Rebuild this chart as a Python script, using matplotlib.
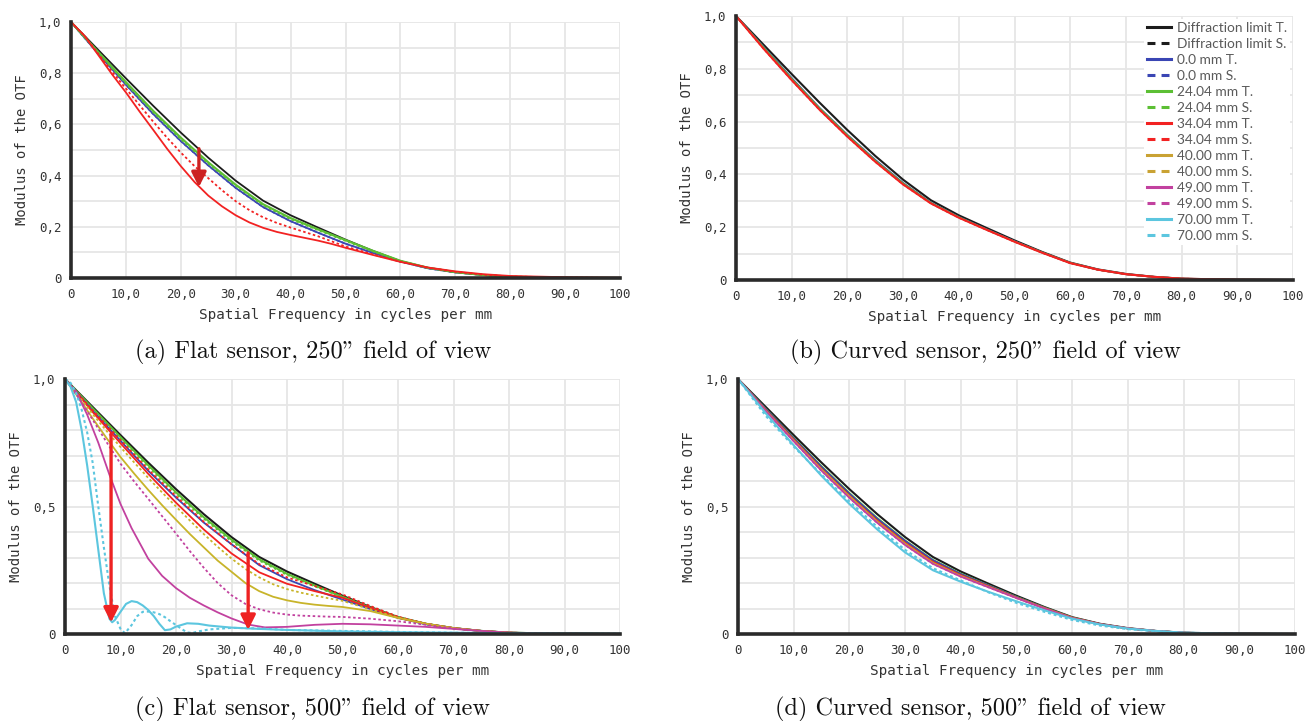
import numpy as np
import matplotlib
matplotlib.use('Agg')
import matplotlib.pyplot as plt
from matplotlib.lines import Line2D

W, H = 1307, 721

# spatial frequency grids (cycles/mm)
FREQ = [0, 5, 10, 15, 20, 25, 30, 35, 40, 45, 50, 55, 60, 65, 70, 75, 80, 90, 100]
FREQ_FINE = [0, 2.5, 5, 7.5, 10, 12.5, 15, 17.5, 20, 22.5, 25, 27.5, 30, 32.5, 35, 37.5,
             40, 42.5, 45, 47.5, 50, 55, 60, 65, 70, 75, 80, 90, 100]

# diffraction limit (same in every panel)
DIFF = [1.0, 0.89, 0.78, 0.672, 0.568, 0.47, 0.38, 0.302, 0.245, 0.197, 0.150, 0.106, 0.066, 0.040, 0.023, 0.012, 0.005, 0.001, 0.0]

# (a) flat sensor, 250" field
A_BLUE = [1.0, 0.875, 0.755, 0.64, 0.535, 0.44, 0.352, 0.277, 0.222, 0.177, 0.134, 0.098, 0.064, 0.038, 0.022, 0.012, 0.005, 0.001, 0.0]
A_GREEN_T = [1.0, 0.882, 0.765, 0.652, 0.548, 0.452, 0.364, 0.288, 0.234, 0.19, 0.148, 0.106, 0.067, 0.040, 0.023, 0.012, 0.005, 0.001, 0.0]
A_GREEN_S = [1.0, 0.879, 0.76, 0.647, 0.542, 0.447, 0.36, 0.284, 0.23, 0.187, 0.145, 0.104, 0.066, 0.040, 0.023, 0.012, 0.005, 0.001, 0.0]
# fine grid
A_RED_T = [1.0, 0.945, 0.87, 0.795, 0.725, 0.65, 0.578, 0.505, 0.437, 0.375, 0.322, 0.28, 0.245, 0.217, 0.196, 0.18,
           0.168, 0.157, 0.146, 0.133, 0.118, 0.09, 0.063, 0.041, 0.026, 0.015, 0.008, 0.003, 0.001]
A_RED_S = [1.0, 0.945, 0.875, 0.805, 0.74, 0.675, 0.61, 0.548, 0.49, 0.437, 0.39, 0.343, 0.30, 0.265, 0.237, 0.215,
           0.197, 0.18, 0.163, 0.143, 0.123, 0.092, 0.064, 0.040, 0.024, 0.013, 0.006, 0.002, 0.0]

# (b) curved sensor, 250" field
B_BLUE = [1.0, 0.882, 0.765, 0.652, 0.55, 0.455, 0.368, 0.293, 0.239, 0.192, 0.147, 0.104, 0.065, 0.039, 0.022, 0.012, 0.005, 0.001, 0.0]
B_GREEN = [1.0, 0.88, 0.762, 0.65, 0.548, 0.452, 0.366, 0.292, 0.238, 0.191, 0.146, 0.104, 0.065, 0.039, 0.022, 0.012, 0.005, 0.001, 0.0]
B_RED = [1.0, 0.875, 0.757, 0.645, 0.543, 0.448, 0.362, 0.29, 0.236, 0.19, 0.145, 0.103, 0.064, 0.039, 0.022, 0.012, 0.005, 0.001, 0.0]

# (c) flat sensor, 500" field
C_BLUE = [1.0, 0.875, 0.758, 0.64, 0.535, 0.437, 0.352, 0.27, 0.215, 0.172, 0.135, 0.098, 0.063, 0.038, 0.022, 0.012, 0.005, 0.001, 0.0]
C_GREEN_T = [1.0, 0.885, 0.772, 0.662, 0.556, 0.458, 0.37, 0.293, 0.236, 0.19, 0.146, 0.104, 0.066, 0.040, 0.023, 0.012, 0.005, 0.001, 0.0]
C_GREEN_S = [1.0, 0.882, 0.768, 0.656, 0.55, 0.452, 0.364, 0.288, 0.232, 0.187, 0.144, 0.103, 0.065, 0.039, 0.023, 0.012, 0.005, 0.001, 0.0]
C_RED_T = [1.0, 0.87, 0.748, 0.628, 0.515, 0.41, 0.316, 0.242, 0.197, 0.168, 0.142, 0.103, 0.064, 0.040, 0.023, 0.012, 0.005, 0.001, 0.0]
C_RED_S = [1.0, 0.877, 0.76, 0.645, 0.54, 0.44, 0.352, 0.274, 0.222, 0.188, 0.155, 0.11, 0.068, 0.040, 0.023, 0.012, 0.005, 0.001, 0.0]
# fine grid
C_YELLOW_T = [1.0, 0.925, 0.845, 0.768, 0.694, 0.628, 0.565, 0.505, 0.448, 0.392, 0.34, 0.288, 0.244, 0.2, 0.168, 0.146,
              0.132, 0.122, 0.115, 0.11, 0.106, 0.09, 0.063, 0.040, 0.023, 0.012, 0.005, 0.001, 0.0]
C_YELLOW_S = [1.0, 0.932, 0.862, 0.796, 0.733, 0.672, 0.612, 0.555, 0.5, 0.445, 0.392, 0.342, 0.296, 0.255, 0.222, 0.195,
              0.176, 0.162, 0.151, 0.14, 0.13, 0.097, 0.064, 0.040, 0.023, 0.012, 0.005, 0.001, 0.0]
C_MAGENTA_S = [1.0, 0.925, 0.84, 0.752, 0.668, 0.597, 0.53, 0.462, 0.394, 0.325, 0.26, 0.2, 0.152, 0.118, 0.097, 0.084,
               0.076, 0.072, 0.07, 0.068, 0.067, 0.06, 0.05, 0.036, 0.022, 0.012, 0.005, 0.001, 0.0]

C_MAGENTA_T_FREQ = [0, 2, 4, 6, 8, 10, 12, 15, 17.5, 20, 22.5, 25, 27.5, 30, 33, 36, 40, 45, 50, 55, 60, 65, 70, 75, 80, 90, 100]
C_MAGENTA_T = [1.0, 0.95, 0.86, 0.75, 0.625, 0.51, 0.415, 0.295, 0.228, 0.18, 0.142, 0.112, 0.085, 0.061, 0.037, 0.026, 0.028, 0.036, 0.04, 0.038, 0.033, 0.028, 0.02, 0.012, 0.005, 0.001, 0.0]

C_CYAN_T_FREQ = [0, 1, 2, 3, 4, 5, 6, 7, 8, 8.5, 9, 10, 11, 12, 13, 14, 15, 16, 17, 18, 19, 20, 22, 24, 26, 30, 35, 40, 50, 60, 70, 80, 90, 100]
C_CYAN_T = [1.0, 0.97, 0.91, 0.8, 0.66, 0.5, 0.33, 0.16, 0.06, 0.046, 0.055, 0.087, 0.118, 0.129, 0.125, 0.112, 0.094, 0.07, 0.04, 0.015, 0.018, 0.029, 0.042, 0.04, 0.033, 0.025, 0.02, 0.016, 0.01, 0.007, 0.005, 0.003, 0.002, 0.001]

C_CYAN_S_FREQ = [0, 1, 2, 3, 4, 5, 6, 7, 8, 9, 10, 10.8, 12, 13, 14, 15, 16, 17, 18, 19, 20, 21, 22, 23, 24, 26, 30, 35, 40, 50, 60, 70, 80, 90, 100]
C_CYAN_S = [1.0, 0.985, 0.945, 0.88, 0.79, 0.67, 0.5, 0.34, 0.19, 0.07, 0.02, 0.003, 0.035, 0.07, 0.087, 0.088, 0.085, 0.078, 0.066, 0.05, 0.035, 0.02, 0.006, 0.004, 0.01, 0.018, 0.024, 0.022, 0.016, 0.012, 0.008, 0.005, 0.003, 0.002, 0.001]

# (d) curved sensor, 500" field
D_BLUE = [1.0, 0.882, 0.768, 0.655, 0.55, 0.452, 0.365, 0.289, 0.235, 0.19, 0.145, 0.103, 0.064, 0.039, 0.022, 0.012, 0.005, 0.001, 0.0]
D_GREEN = [1.0, 0.883, 0.77, 0.658, 0.553, 0.455, 0.367, 0.291, 0.237, 0.191, 0.146, 0.104, 0.065, 0.039, 0.022, 0.012, 0.005, 0.001, 0.0]
D_RED = [1.0, 0.878, 0.763, 0.648, 0.543, 0.445, 0.358, 0.283, 0.231, 0.187, 0.143, 0.102, 0.064, 0.039, 0.022, 0.012, 0.005, 0.001, 0.0]
D_YELLOW = [1.0, 0.876, 0.76, 0.645, 0.54, 0.441, 0.354, 0.279, 0.228, 0.185, 0.142, 0.101, 0.063, 0.038, 0.022, 0.012, 0.005, 0.001, 0.0]
D_MAGENTA = [1.0, 0.874, 0.756, 0.64, 0.534, 0.436, 0.349, 0.275, 0.225, 0.183, 0.141, 0.1, 0.062, 0.038, 0.022, 0.012, 0.005, 0.001, 0.0]
D_CYAN_T = [1.0, 0.865, 0.74, 0.62, 0.51, 0.41, 0.32, 0.25, 0.205, 0.165, 0.128, 0.093, 0.06, 0.037, 0.021, 0.012, 0.005, 0.001, 0.0]
D_CYAN_S = [1.0, 0.855, 0.735, 0.625, 0.52, 0.42, 0.33, 0.258, 0.21, 0.163, 0.122, 0.087, 0.055, 0.033, 0.019, 0.011, 0.005, 0.001, 0.0]

# red arrows: (frequency, start, tip)
A_ARROWS = [(23.3, 0.505, 0.355)]
C_ARROWS = [(8.3, 0.785, 0.045), (33.0, 0.318, 0.016)]

XTICKS = [0, 10, 20, 30, 40, 50, 60, 70, 80, 90, 100]
XTICK_LABELS = ['0', '10,0', '20,0', '30,0', '40,0', '50,0', '60,0', '70,0', '80,0', '90,0', '100']

LEGEND_LABELS = ['Diffraction limit T.', 'Diffraction limit S.', '0.0 mm T.', '0.0 mm S.',
                 '24.04 mm T.', '24.04 mm S.', '34.04 mm T.', '34.04 mm S.',
                 '40.00 mm T.', '40.00 mm S.', '49.00 mm T.', '49.00 mm S.',
                 '70.00 mm T.', '70.00 mm S.']

CAPTIONS = ['(a) Flat sensor, 250" field of view', '(b) Curved sensor, 250" field of view',
            '(c) Flat sensor, 500" field of view', '(d) Curved sensor, 500" field of view']

C_BLACK = '#1c1c1c'
C_BLUEC = '#3a46b4'
C_GREENC = '#5cbf34'
C_REDC = '#f22222'
C_YELLOWC = '#c8b42a'
C_MAGC = '#c2419f'
C_CYANC = '#5cc6df'
DOT = (0, (1.4, 1.4))

MONO = 'DejaVu Sans Mono'
TXT = '#333333'


def make_axes(fig, left, right, top, bottom):
    return fig.add_axes([left / W, 1 - bottom / H, (right - left) / W, (bottom - top) / H])


def style(ax, yticks, ylabels):
    ax.set_xlim(0, 100)
    ax.set_ylim(0, 1.0)
    ax.set_xticks(XTICKS)
    ax.set_xticklabels(XTICK_LABELS, family=MONO, fontsize=9, color=TXT)
    ax.set_yticks(yticks)
    ax.set_yticklabels(ylabels, family=MONO, fontsize=9, color=TXT)
    ax.set_yticks(np.arange(0, 1.01, 0.1), minor=True)
    ax.tick_params(which='both', length=0, pad=7)
    ax.grid(True, which='both', color='#e6e6e6', lw=1.3)
    ax.set_axisbelow(True)
    for s in ['top', 'right']:
        ax.spines[s].set_visible(False)
    for s in ['left', 'bottom']:
        ax.spines[s].set_color('#2a2a2a')
        ax.spines[s].set_linewidth(2.6)
    ax.set_xlabel('Spatial Frequency in cycles per mm', family=MONO, fontsize=10.3, color=TXT, labelpad=5)
    ax.set_ylabel('Modulus of the OTF', family=MONO, fontsize=10, color=TXT, labelpad=7)


def curve(ax, x, y, color, dotted=False, lw=1.3):
    ax.plot(x, y, color=color, lw=lw, ls=DOT if dotted else '-', clip_on=False)


def arrows(ax, items, color):
    for f, y0, y1 in items:
        ax.annotate('', xy=(f, y1), xytext=(f, y0),
                    arrowprops=dict(arrowstyle='-|>', color=color, lw=2.4,
                                    mutation_scale=22, shrinkA=0, shrinkB=0))


fig = plt.figure(figsize=(W / 100, H / 100), dpi=100)
fig.patch.set_facecolor('white')

# (a)
ax = make_axes(fig, 71, 620, 22, 278)
style(ax, [0, 0.2, 0.4, 0.6, 0.8, 1.0], ['0', '0,2', '0,4', '0,6', '0,8', '1,0'])
curve(ax, FREQ, DIFF, C_BLACK)
curve(ax, FREQ, A_BLUE, C_BLUEC)
curve(ax, FREQ, A_BLUE, C_BLUEC, True)
curve(ax, FREQ, A_GREEN_T, C_GREENC, lw=1.6)
curve(ax, FREQ, A_GREEN_S, C_GREENC, True)
curve(ax, FREQ_FINE, A_RED_T, C_REDC)
curve(ax, FREQ_FINE, A_RED_S, C_REDC, True)
arrows(ax, A_ARROWS, '#cc2222')

# (b)
ax = make_axes(fig, 736, 1293, 16, 280)
style(ax, [0, 0.2, 0.4, 0.6, 0.8, 1.0], ['0', '0,2', '0,4', '0,6', '0,8', '1,0'])
curve(ax, FREQ, DIFF, C_BLACK, lw=1.5)
curve(ax, FREQ, B_BLUE, C_BLUEC)
curve(ax, FREQ, B_GREEN, C_GREENC)
curve(ax, FREQ, B_RED, C_REDC, lw=1.5)
curve(ax, FREQ, B_RED, C_REDC, True)

handles = []
leg_colors = [C_BLACK, C_BLUEC, C_GREENC, C_REDC, '#c9a233', C_MAGC, C_CYANC]
for i, lab in enumerate(LEGEND_LABELS):
    handles.append(Line2D([], [], color=leg_colors[i // 2], lw=2.2,
                          ls='-' if i % 2 == 0 else (0, (2.6, 2.0)), label=lab))
leg = ax.legend(handles=handles, loc='upper right', bbox_to_anchor=(1.0, 1.0),
                frameon=True, fancybox=False, facecolor='white', edgecolor='none',
                framealpha=1, prop={'family': 'Lato', 'size': 9.9},
                handlelength=1.7, handletextpad=0.45, labelspacing=0.29,
                borderpad=0.25, borderaxespad=0.2)
for t in leg.get_texts():
    t.set_color('#5a5a5a')

# (c)
ax = make_axes(fig, 65, 620, 379, 634)
style(ax, [0, 0.5, 1.0], ['0', '0,5', '1,0'])
curve(ax, FREQ, DIFF, C_BLACK, lw=1.5)
curve(ax, FREQ, C_GREEN_T, C_GREENC, lw=1.5)
curve(ax, FREQ, C_GREEN_S, C_GREENC, True)
curve(ax, FREQ, C_BLUE, C_BLUEC)
curve(ax, FREQ, C_RED_T, C_REDC)
curve(ax, FREQ, C_RED_S, C_REDC, True)
curve(ax, FREQ_FINE, C_YELLOW_T, C_YELLOWC)
curve(ax, FREQ_FINE, C_YELLOW_S, C_YELLOWC, True)
curve(ax, C_MAGENTA_T_FREQ, C_MAGENTA_T, C_MAGC)
curve(ax, FREQ_FINE, C_MAGENTA_S, C_MAGC, True)
curve(ax, C_CYAN_T_FREQ, C_CYAN_T, C_CYANC, lw=1.5)
curve(ax, C_CYAN_S_FREQ, C_CYAN_S, C_CYANC, True, lw=1.5)
arrows(ax, C_ARROWS, '#ee2222')

# (d)
ax = make_axes(fig, 738, 1295, 379, 634)
style(ax, [0, 0.5, 1.0], ['0', '0,5', '1,0'])
curve(ax, FREQ, DIFF, C_BLACK, lw=1.5)
curve(ax, FREQ, D_GREEN, C_GREENC)
curve(ax, FREQ, D_BLUE, C_BLUEC)
curve(ax, FREQ, D_RED, C_REDC)
curve(ax, FREQ, D_YELLOW, C_YELLOWC)
curve(ax, FREQ, D_MAGENTA, C_MAGC)
curve(ax, FREQ, D_MAGENTA, C_MAGC, True)
curve(ax, FREQ, D_CYAN_T, C_CYANC, lw=1.5)
curve(ax, FREQ, D_CYAN_S, C_CYANC, True, lw=1.5)

# captions
cap_pos = [(313, 352), (985, 352), (312, 709), (970, 709)]
for (cx, cy), cap in zip(cap_pos, CAPTIONS):
    fig.text(cx / W, 1 - cy / H, cap, family=['cmr10', 'DejaVu Serif'], fontsize=17.5,
             ha='center', va='center', color='#111111')

fig.savefig('out.png', dpi=100)
